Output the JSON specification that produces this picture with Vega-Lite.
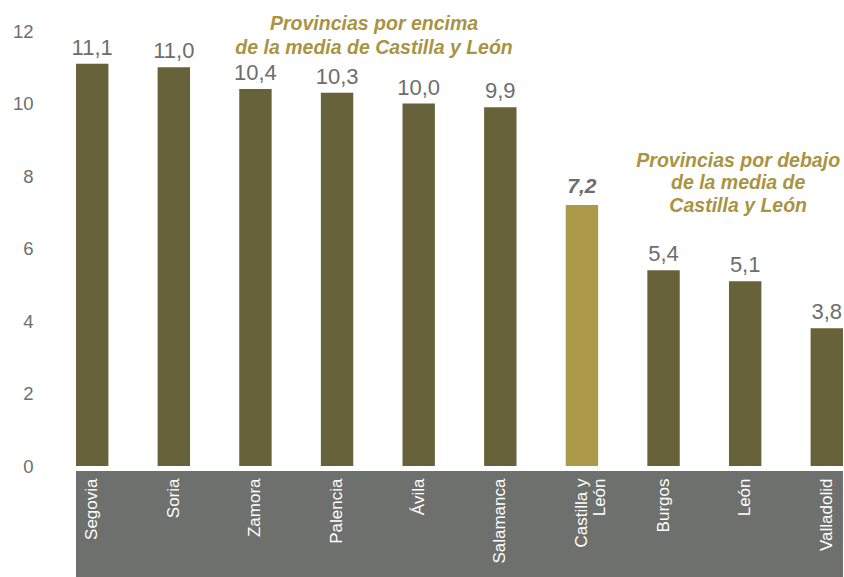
{
  "$schema": "https://vega.github.io/schema/vega-lite/v6.json",
  "width": 767,
  "height": 435,
  "autosize": {"type": "none"},
  "padding": {"left": 76, "top": 31, "right": 1, "bottom": 111},
  "background": "white",
  "config": {
    "view": {"stroke": null},
    "font": "Liberation Sans",
    "locale": {"number": {"decimal": ",", "thousands": ".", "grouping": [3], "currency": ["", " €"]}}
  },
  "datasets": {
    "tasas": [
      {"Provincia": "Segovia", "valor": 11.1},
      {"Provincia": "Soria", "valor": 11.0},
      {"Provincia": "Zamora", "valor": 10.4},
      {"Provincia": "Palencia", "valor": 10.3},
      {"Provincia": "Ávila", "valor": 10.0},
      {"Provincia": "Salamanca", "valor": 9.9},
      {"Provincia": "Castilla y León", "valor": 7.2},
      {"Provincia": "Burgos", "valor": 5.4},
      {"Provincia": "León", "valor": 5.1},
      {"Provincia": "Valladolid", "valor": 3.8}
    ],
    "franja": [{"inicio": 0, "fin": 1, "valor": -0.14, "valor2": -3.2}],
    "notas": [
      {"Provincia": "Palencia", "valor": 12.03, "texto": "Provincias por encima\nde la media de Castilla y León", "lado": "izq"},
      {"Provincia": "León", "valor": 8.25, "texto": "Provincias por debajo\nde la media de\nCastilla y León", "lado": "der"}
    ]
  },
  "encoding": {
    "y": {
      "field": "valor",
      "type": "quantitative",
      "scale": {"domain": [0, 12], "nice": false},
      "axis": {
        "title": null,
        "values": [0, 2, 4, 6, 8, 10, 12],
        "grid": false,
        "domain": false,
        "ticks": false,
        "labelFontSize": 18.5,
        "labelColor": "#6e6e6e",
        "labelPadding": 43,
        "labelFont": "Liberation Sans"
      }
    }
  },
  "layer": [
    {
      "data": {"name": "franja"},
      "mark": {"type": "rect", "color": "#6d706c"},
      "encoding": {
        "x": {"field": "inicio", "type": "quantitative", "scale": {"domain": [0, 1], "nice": false}, "axis": null},
        "x2": {"field": "fin"},
        "y2": {"field": "valor2"}
      }
    },
    {
      "encoding": {
        "x": {
          "field": "Provincia",
          "type": "nominal",
          "sort": null,
          "scale": {"paddingInner": 0.603, "paddingOuter": 0},
          "axis": {
            "title": null,
            "labelAngle": -90,
            "labelAlign": "right",
            "labelBaseline": "middle",
            "labelColor": "white",
            "labelFontSize": 17,
            "labelFont": "Liberation Sans",
            "labelPadding": 12,
            "labelLimit": 300,
            "labelLineHeight": 18,
            "ticks": false,
            "domain": false,
            "zindex": 1,
            "labelExpr": "datum.label == 'Castilla y León' ? ['Castilla y', 'León'] : datum.label"
          }
        }
      },
      "layer": [
        {
          "data": {"name": "tasas"},
          "mark": {"type": "bar"},
          "encoding": {
            "color": {
              "condition": {"test": "datum.Provincia == 'Castilla y León'", "value": "#ad9a49"},
              "value": "#676239"
            }
          }
        },
        {
          "data": {"name": "tasas"},
          "transform": [{"filter": "datum.Provincia != 'Castilla y León'"}],
          "mark": {"type": "text", "baseline": "alphabetic", "dy": -9, "fontSize": 22, "color": "#6e6e6e", "font": "Liberation Sans"},
          "encoding": {
            "text": {"field": "valor", "type": "quantitative", "format": ".1f"}
          }
        },
        {
          "data": {"name": "tasas"},
          "transform": [{"filter": "datum.Provincia == 'Castilla y León'"}],
          "mark": {"type": "text", "baseline": "alphabetic", "dy": -12, "fontSize": 21, "fontWeight": "bold", "fontStyle": "italic", "color": "#6e6e6e", "font": "Liberation Sans"},
          "encoding": {
            "text": {"field": "valor", "type": "quantitative", "format": ".1f"}
          }
        },
        {
          "data": {"name": "notas"},
          "transform": [{"filter": "datum.lado == 'izq'"}],
          "mark": {"type": "text", "baseline": "alphabetic", "align": "center", "dx": 37, "lineBreak": "\n", "lineHeight": 24, "fontSize": 19.5, "fontWeight": "bold", "fontStyle": "italic", "color": "#a89442", "font": "Liberation Sans"},
          "encoding": {
            "text": {"field": "texto", "type": "nominal"}
          }
        },
        {
          "data": {"name": "notas"},
          "transform": [{"filter": "datum.lado == 'der'"}],
          "mark": {"type": "text", "baseline": "alphabetic", "align": "center", "dx": -7, "lineBreak": "\n", "lineHeight": 22.5, "fontSize": 19.5, "fontWeight": "bold", "fontStyle": "italic", "color": "#a89442", "font": "Liberation Sans"},
          "encoding": {
            "text": {"field": "texto", "type": "nominal"}
          }
        }
      ]
    }
  ],
  "resolve": {"scale": {"x": "independent"}}
}
